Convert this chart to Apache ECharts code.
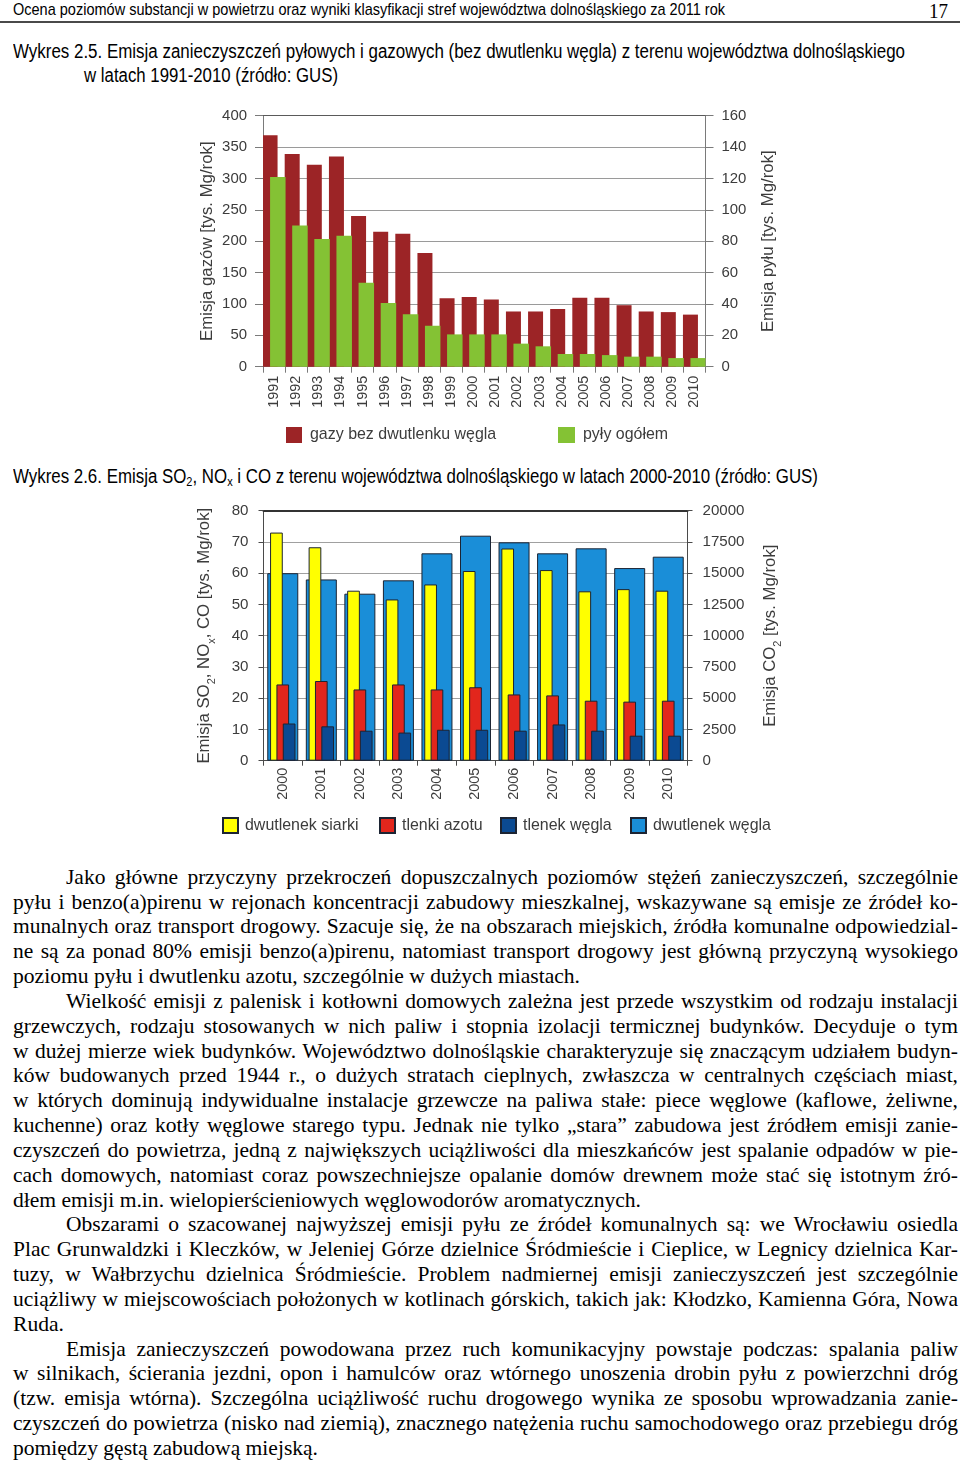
<!DOCTYPE html>
<html><head><meta charset="utf-8">
<script src="https://cdn.jsdelivr.net/npm/echarts@6/dist/echarts.min.js"></script>
<style>
html,body{margin:0;padding:0;background:#fff;}
body{width:960px;height:1461px;position:relative;overflow:hidden;}
.t{position:absolute;white-space:nowrap;color:#000;line-height:1;}
.t>span,.ln>span{display:inline-block;transform-origin:0 50%;white-space:nowrap;}
.sans{font-family:"Liberation Sans Narrow","Arial Narrow","Liberation Sans",sans-serif;}
.serif{font-family:"Liberation Serif","Times New Roman",serif;}
#c1{position:absolute;left:0;top:95px;width:960px;height:360px;}
#c2{position:absolute;left:0;top:495px;width:960px;height:350px;}
#txt{position:absolute;left:0;top:864.8px;width:960px;font-size:21.5px;line-height:24.83px;color:#000;}
.ln{position:relative;height:24.83px;white-space:nowrap;}
.rule{position:absolute;left:0;top:21px;width:960px;height:2px;background:#4a4a4a;}
sub{font-size:65%;vertical-align:-0.25em;line-height:0;}
</style></head>
<body>
<div class="t sans" id="hdr" style="left:13px;top:1px;font-size:17px;" data-w="712"><span>Ocena poziomów substancji w powietrzu oraz wyniki klasyfikacji stref województwa dolnośląskiego za 2011 rok</span></div>
<div class="t serif" style="left:929px;top:1px;font-size:20px;" data-w="19"><span>17</span></div>
<div class="rule"></div>
<div class="t sans" style="left:13px;top:41px;font-size:20px;" data-w="892"><span>Wykres 2.5. Emisja zanieczyszczeń pyłowych i gazowych (bez dwutlenku węgla) z terenu województwa dolnośląskiego</span></div>
<div class="t sans" style="left:84px;top:65px;font-size:20px;" data-w="254"><span>w latach 1991-2010 (źródło: GUS)</span></div>
<div id="c1"></div>
<div class="t sans" style="left:13px;top:466px;font-size:20px;" data-w="805"><span>Wykres 2.6. Emisja SO<sub>2</sub>, NO<sub>x</sub> i CO z terenu województwa dolnośląskiego w latach 2000-2010 (źródło: GUS)</span></div>
<div id="c2"></div>

<div id="txt" class="serif">
<div class="ln" data-x="66" data-w="892" data-j="1"><span>Jako główne przyczyny przekroczeń dopuszczalnych poziomów stężeń zanieczyszczeń, szczególnie</span></div>
<div class="ln" data-x="13" data-w="945" data-j="1"><span>pyłu i benzo(a)pirenu w rejonach koncentracji zabudowy mieszkalnej, wskazywane są emisje ze źródeł ko-</span></div>
<div class="ln" data-x="13" data-w="945" data-j="1"><span>munalnych oraz transport drogowy. Szacuje się, że na obszarach miejskich, źródła komunalne odpowiedzial-</span></div>
<div class="ln" data-x="13" data-w="945" data-j="1"><span>ne są za ponad 80% emisji benzo(a)pirenu, natomiast transport drogowy jest główną przyczyną wysokiego</span></div>
<div class="ln" data-x="13" data-w="567"><span>poziomu pyłu i dwutlenku azotu, szczególnie w dużych miastach.</span></div>
<div class="ln" data-x="66" data-w="892" data-j="1"><span>Wielkość emisji z palenisk i kotłowni domowych zależna jest przede wszystkim od rodzaju instalacji</span></div>
<div class="ln" data-x="13" data-w="945" data-j="1"><span>grzewczych, rodzaju stosowanych w nich paliw i stopnia izolacji termicznej budynków. Decyduje o tym</span></div>
<div class="ln" data-x="13" data-w="945" data-j="1"><span>w dużej mierze wiek budynków. Województwo dolnośląskie charakteryzuje się znaczącym udziałem budyn-</span></div>
<div class="ln" data-x="13" data-w="945" data-j="1"><span>ków budowanych przed 1944 r., o dużych stratach cieplnych, zwłaszcza w centralnych częściach miast,</span></div>
<div class="ln" data-x="13" data-w="945" data-j="1"><span>w których dominują indywidualne instalacje grzewcze na paliwa stałe: piece węglowe (kaflowe, żeliwne,</span></div>
<div class="ln" data-x="13" data-w="945" data-j="1"><span>kuchenne) oraz kotły węglowe starego typu. Jednak nie tylko „stara” zabudowa jest źródłem emisji zanie-</span></div>
<div class="ln" data-x="13" data-w="945" data-j="1"><span>czyszczeń do powietrza, jedną z największych uciążliwości dla mieszkańców jest spalanie odpadów w pie-</span></div>
<div class="ln" data-x="13" data-w="945" data-j="1"><span>cach domowych, natomiast coraz powszechniejsze opalanie domów drewnem może stać się istotnym źró-</span></div>
<div class="ln" data-x="13" data-w="628"><span>dłem emisji m.in. wielopierścieniowych węglowodorów aromatycznych.</span></div>
<div class="ln" data-x="66" data-w="892" data-j="1"><span>Obszarami o szacowanej najwyższej emisji pyłu ze źródeł komunalnych są: we Wrocławiu osiedla</span></div>
<div class="ln" data-x="13" data-w="945" data-j="1"><span>Plac Grunwaldzki i Kleczków, w Jeleniej Górze dzielnice Śródmieście i Cieplice, w Legnicy dzielnica Kar-</span></div>
<div class="ln" data-x="13" data-w="945" data-j="1"><span>tuzy, w Wałbrzychu dzielnica Śródmieście. Problem nadmiernej emisji zanieczyszczeń jest szczególnie</span></div>
<div class="ln" data-x="13" data-w="945" data-j="1"><span>uciążliwy w miejscowościach położonych w kotlinach górskich, takich jak: Kłodzko, Kamienna Góra, Nowa</span></div>
<div class="ln" data-x="13" data-w="51"><span>Ruda.</span></div>
<div class="ln" data-x="66" data-w="892" data-j="1"><span>Emisja zanieczyszczeń powodowana przez ruch komunikacyjny powstaje podczas: spalania paliw</span></div>
<div class="ln" data-x="13" data-w="945" data-j="1"><span>w silnikach, ścierania jezdni, opon i hamulców oraz wtórnego unoszenia drobin pyłu z powierzchni dróg</span></div>
<div class="ln" data-x="13" data-w="945" data-j="1"><span>(tzw. emisja wtórna). Szczególna uciążliwość ruchu drogowego wynika ze sposobu wprowadzania zanie-</span></div>
<div class="ln" data-x="13" data-w="945" data-j="1"><span>czyszczeń do powietrza (nisko nad ziemią), znacznego natężenia ruchu samochodowego oraz przebiegu dróg</span></div>
<div class="ln" data-x="13" data-w="305"><span>pomiędzy gęstą zabudową miejską.</span></div>
</div>

<script>
// ---------- data: Wykres 2.5 ----------
const years1 = ['1991','1992','1993','1994','1995','1996','1997','1998','1999','2000',
                '2001','2002','2003','2004','2005','2006','2007','2008','2009','2010'];
const gazy = [369, 339, 322, 335, 240, 215, 212, 181, 109, 111,
              107, 88, 88, 92, 110, 110, 98, 88, 87, 83];
const pyly = [121, 90, 81.4, 83.5, 53.5, 40.6, 33.4, 26.1, 20.6, 20.6,
              20.6, 14.7, 13, 8.1, 8.1, 7.4, 6.4, 6.4, 5.5, 5.5];
const names1 = ['gazy bez dwutlenku węgla', 'pyły ogółem'];

// ---------- data: Wykres 2.6 ----------
const years2 = ['2000','2001','2002','2003','2004','2005','2006','2007','2008','2009','2010'];
const so2 = [73.0, 68.3, 54.4, 51.6, 56.4, 60.7, 67.9, 61.0, 54.2, 54.9, 54.4];
const nox = [24.4, 25.5, 22.8, 24.4, 22.8, 23.5, 21.2, 20.9, 19.2, 18.9, 19.2];
const co  = [11.9, 11.0, 9.6, 9.0, 9.9, 9.9, 9.6, 11.6, 9.6, 8.0, 8.0];
const co2 = [15000, 14500, 13360, 14430, 16590, 18000, 17470, 16590, 16990, 15410, 16320];
const names2 = ['dwutlenek siarki', 'tlenki azotu', 'tlenek węgla', 'dwutlenek węgla'];

// ---------- font detection ----------
function hasFont(name){
  const c = document.createElement('canvas').getContext('2d');
  const s = 'abcdefghijklmnopqrstuvwxyz0123456789';
  c.font = '40px monospace'; const a = c.measureText(s).width;
  c.font = '40px "' + name + '", monospace'; const b = c.measureText(s).width;
  return Math.abs(a - b) > 0.5;
}
let NARROW = null;
if (hasFont('Liberation Sans Narrow')) NARROW = 'Liberation Sans Narrow';
else if (hasFont('Arial Narrow')) NARROW = 'Arial Narrow';
const F = NARROW || 'Liberation Sans';
const K = NARROW ? 1 : 0.84;
const TXT = '#3c3c3c';
const plain = v => String(v);

// ---------- text fitting ----------
function fitAll(){
  document.querySelectorAll('[data-w]').forEach(el => {
    const s = el.firstElementChild;
    const target = parseFloat(el.dataset.w);
    if (el.dataset.x) el.style.paddingLeft = el.dataset.x + 'px';
    s.style.wordSpacing = '0px'; s.style.transform = 'none';
    const w = s.getBoundingClientRect().width;
    const spaces = (s.textContent.match(/ /g) || []).length;
    if (el.dataset.j === '1' && w < target && spaces > 0) {
      s.style.wordSpacing = ((target - w) / spaces) + 'px';
    } else {
      s.style.transform = 'scaleX(' + (target / w) + ')';
    }
  });
}
fitAll();

// ---------- chart 1 ----------
const c1 = echarts.init(document.getElementById('c1'), null, {renderer: 'canvas'});
const axisGray = '#7a7a7a';
c1.setOption({
  animation: false,
  textStyle: {fontFamily: F},
  grid: {left: 263, top: 20.7, width: 442.5, height: 251},
  legend: [
    {data: [names1[0]], left: 286, top: 332, padding: 0, itemWidth: 16, itemHeight: 16, icon: 'rect',
     textStyle: {fontSize: 19 * K, color: TXT, fontFamily: F, padding: [0, 0, 0, 3]}},
    {data: [names1[1]], left: 558, top: 332, padding: 0, itemWidth: 17, itemHeight: 16, icon: 'rect',
     textStyle: {fontSize: 19 * K, color: TXT, fontFamily: F, padding: [0, 0, 0, 3]}}
  ],
  xAxis: [
    {type: 'category', data: years1, position: 'bottom',
     axisLine: {onZero: false, lineStyle: {color: axisGray}},
     axisTick: {show: true, length: 6, lineStyle: {color: axisGray}},
     axisLabel: {rotate: 90, margin: 9, fontSize: 17.2 * K, color: TXT, fontFamily: F}},
    {type: 'category', data: years1, position: 'top',
     axisLine: {onZero: false, lineStyle: {color: '#5a5a5a'}},
     axisTick: {show: false}, axisLabel: {show: false}}
  ],
  yAxis: [
    {type: 'value', min: 0, max: 400, interval: 50, position: 'left',
     name: 'Emisja gazów [tys. Mg/rok]', nameLocation: 'middle', nameRotate: 90, nameGap: 47,
     nameTextStyle: {fontSize: 20 * K, color: TXT, fontFamily: F},
     axisLine: {show: true, lineStyle: {color: axisGray}},
     axisTick: {show: true, length: 8, lineStyle: {color: axisGray}},
     axisLabel: {margin: 16, fontSize: 17.8 * K, color: TXT, fontFamily: F, formatter: plain},
     splitLine: {show: true, lineStyle: {color: '#9a9a9a', width: 1}}},
    {type: 'value', min: 0, max: 160, interval: 20, position: 'right',
     name: 'Emisja pyłu [tys. Mg/rok]', nameLocation: 'middle', nameRotate: 90, nameGap: 54,
     nameTextStyle: {fontSize: 20 * K, color: TXT, fontFamily: F},
     axisLine: {show: true, lineStyle: {color: axisGray}},
     axisTick: {show: true, length: 8, lineStyle: {color: axisGray}},
     axisLabel: {margin: 16, fontSize: 17.8 * K, color: TXT, fontFamily: F, formatter: plain},
     splitLine: {show: false}}
  ],
  series: [
    {name: names1[0], type: 'bar', data: gazy, yAxisIndex: 0, barWidth: 15, barGap: '-50%',
     itemStyle: {color: '#9c2426'}},
    {name: names1[1], type: 'bar', data: pyly, yAxisIndex: 1, barWidth: 15.5, barGap: '-50%',
     itemStyle: {color: '#84c234'}}
  ]
});

// ---------- chart 2 ----------
const c2 = echarts.init(document.getElementById('c2'), null, {renderer: 'canvas'});
const dark = '#4a4a4a';
const edge = '#1c2433';
const subRich = {
  s: {fontSize: 13 * K, lineHeight: 13, verticalAlign: 'bottom', color: TXT, fontFamily: F},
  m: {fontSize: 20 * K, lineHeight: 26, verticalAlign: 'middle', color: TXT, fontFamily: F}
};
const legendBase = {padding: 0, top: 322, itemWidth: 15, itemHeight: 15, icon: 'rect'};
const lt = {fontSize: 19 * K, color: TXT, fontFamily: F, padding: [0, 0, 0, 2]};
c2.setOption({
  animation: false,
  textStyle: {fontFamily: F},
  grid: {left: 263.5, top: 15.7, width: 424, height: 250},
  legend: [
    Object.assign({data: [names2[0]], left: 222, textStyle: lt}, legendBase),
    Object.assign({data: [names2[1]], left: 379, textStyle: lt}, legendBase),
    Object.assign({data: [names2[2]], left: 500, textStyle: lt}, legendBase),
    Object.assign({data: [names2[3]], left: 630, textStyle: lt}, legendBase)
  ],
  xAxis: [
    {type: 'category', data: years2, position: 'bottom',
     axisLine: {onZero: false, lineStyle: {color: dark}},
     axisTick: {show: true, length: 5, lineStyle: {color: dark}},
     axisLabel: {rotate: 90, margin: 7, fontSize: 17.2 * K, color: TXT, fontFamily: F}},
    {type: 'category', data: years2, position: 'top',
     axisLine: {onZero: false, lineStyle: {color: '#333', width: 2}},
     axisTick: {show: false}, axisLabel: {show: false}}
  ],
  yAxis: [
    {type: 'value', min: 0, max: 80, interval: 10, position: 'left',
     name: '{m|Emisja SO}{s|2}{m|, NO}{s|x}{m|, CO [tys. Mg/rok]}', nameLocation: 'middle', nameRotate: 90, nameGap: 46,
     nameTextStyle: {rich: subRich},
     axisLine: {show: true, lineStyle: {color: dark}},
     axisTick: {show: true, length: 5, lineStyle: {color: dark}},
     axisLabel: {margin: 15, fontSize: 18 * K, color: TXT, fontFamily: F, formatter: plain},
     splitLine: {show: true, lineStyle: {color: '#a0a0a0', width: 1}}},
    {type: 'value', min: 0, max: 20000, interval: 2500, position: 'right',
     name: '{m|Emisja CO}{s|2}{m| [tys. Mg/rok]}', nameLocation: 'middle', nameRotate: 90, nameGap: 70,
     nameTextStyle: {rich: subRich},
     axisLine: {show: true, lineStyle: {color: dark}},
     axisTick: {show: true, length: 5, lineStyle: {color: dark}},
     axisLabel: {margin: 15, fontSize: 18 * K, color: TXT, fontFamily: F, formatter: plain},
     splitLine: {show: false}}
  ],
  series: [
    {name: names2[3], type: 'bar', data: co2, xAxisIndex: 1, yAxisIndex: 1, barWidth: 31,
     itemStyle: {color: '#1a8ed8', borderColor: edge, borderWidth: 1}},
    {name: names2[0], type: 'bar', data: so2, xAxisIndex: 0, yAxisIndex: 0, barWidth: 12.7, barGap: '-50%',
     itemStyle: {color: '#ffff00', borderColor: edge, borderWidth: 1}},
    {name: names2[1], type: 'bar', data: nox, xAxisIndex: 0, yAxisIndex: 0, barWidth: 12.7, barGap: '-50%',
     itemStyle: {color: '#e2261c', borderColor: edge, borderWidth: 1}},
    {name: names2[2], type: 'bar', data: co, xAxisIndex: 0, yAxisIndex: 0, barWidth: 12.7, barGap: '-50%',
     itemStyle: {color: '#0b4a92', borderColor: edge, borderWidth: 1}}
  ]
});
if (document.fonts && document.fonts.ready) document.fonts.ready.then(fitAll);
</script>
</body></html>
